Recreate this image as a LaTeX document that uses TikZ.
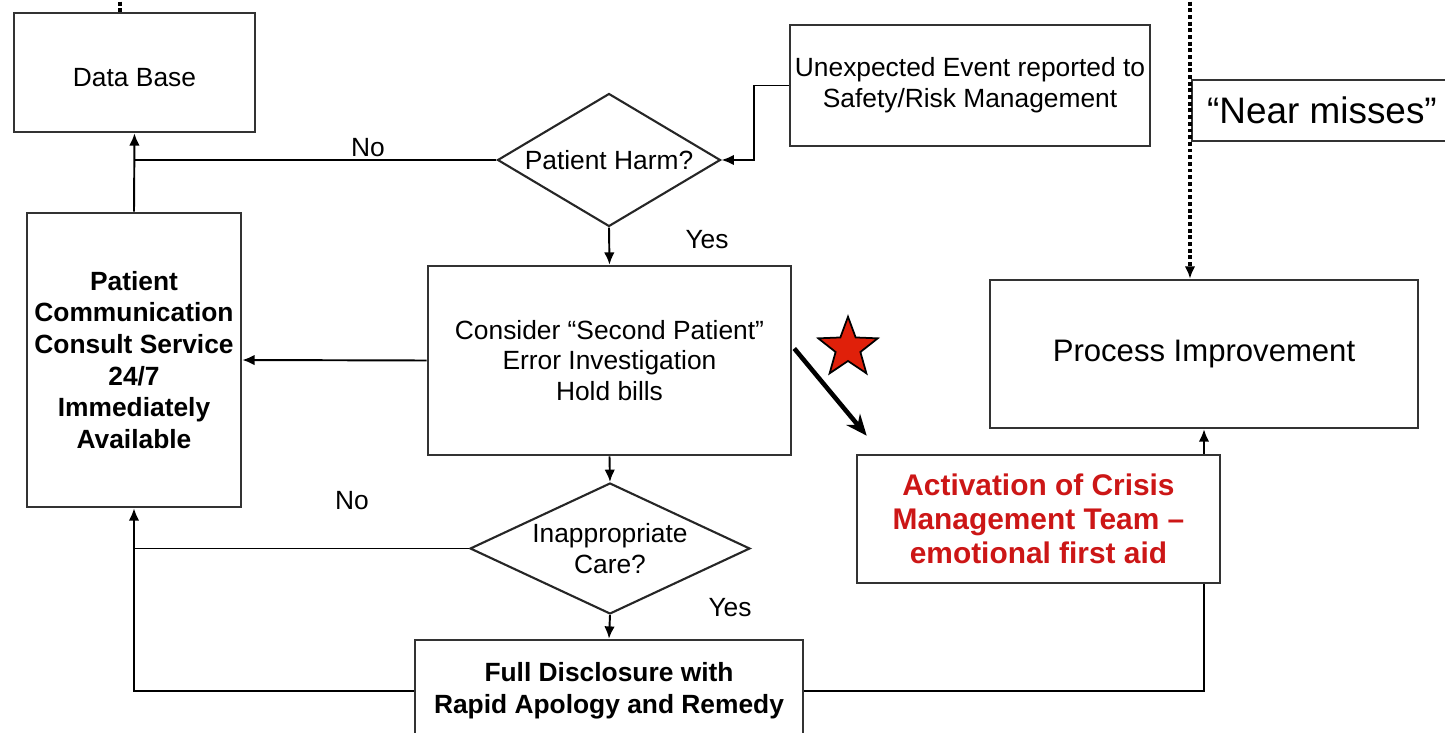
\documentclass[tikz,border=0pt]{standalone}
\usepackage{fontspec}
\setmainfont{Liberation Sans}
\usetikzlibrary{shapes.geometric, arrows.meta}

\definecolor{crisisred}{RGB}{204,22,22}
\definecolor{starred}{RGB}{224,32,10}

\begin{document}
\begin{tikzpicture}[x=0.02cm, y=-0.02cm,
  box/.style={draw=black!80, line width=1.5pt, align=center, inner sep=2pt},
  decision/.style={diamond, draw=black!85, line width=1.2pt, align=center, inner sep=0pt},
  txt/.style={font=\fontsize{15}{17.5}\selectfont},
  bold/.style={font=\fontsize{15}{18}\selectfont\bfseries},
  line/.style={line width=1.1pt},
  arr/.style={line width=1.1pt, -{Latex[length=7pt,width=6pt]}},
  dots/.style={line width=1.8pt, dash pattern=on 2.2pt off 1.6pt}]
  \useasboundingbox (0,0) rectangle (1445,733);
  \clip (0,0) rectangle (1445,733);

  \node[box, txt, text height=16.5pt, minimum width=4.82cm, minimum height=2.38cm] (db) at (134.5,72.5) {Data Base};
  \node[box, txt, minimum width=7.2cm, minimum height=2.42cm] (event) at (970,85.5) {Unexpected Event reported to\\Safety/Risk Management};
  \node[box, font=\fontsize{21}{24}\selectfont, minimum width=5.2cm, minimum height=1.22cm] (near) at (1322,110.5) {“Near misses”};
  \node[decision, txt, aspect=1.68, minimum width=4.46cm, minimum height=2.66cm] (harm) at (609,160) {Patient Harm?};
  \node[box, txt, minimum width=7.26cm, minimum height=3.78cm] (consider) at (609.5,360.5) {Consider “Second Patient”\\Error Investigation\\Hold bills};
  \node[box, bold, minimum width=4.28cm, minimum height=5.88cm] (pcs) at (134,360) {Patient\\Communication\\Consult Service\\24/7\\Immediately\\Available};
  \node[box, font=\fontsize{17.7}{20}\selectfont, minimum width=8.56cm, minimum height=2.96cm] (proc) at (1204,354) {Process Improvement};
  \node[box, font=\fontsize{17}{19.3}\selectfont\bfseries, text=crisisred, minimum width=7.26cm, minimum height=2.56cm] (crisis) at (1038.5,519) {Activation of Crisis\\Management Team –\\emotional first aid};
  \node[decision, txt, aspect=2.14, minimum width=5.6cm, minimum height=2.62cm] (care) at (610,548.5) {Inappropriate\\Care?};
  \node[box, bold, minimum width=7.76cm, minimum height=2.04cm] (full) at (609,691) {Full Disclosure with\\Rapid Apology and Remedy};
  \node[star, star points=5, star point ratio=2.4, draw=black, line width=1pt, fill=starred, minimum size=1.25cm, inner sep=0pt] (mark) at (848,348) {};

  \node[txt] (no1) at (368,148) {No};
  \node[txt] (yes1) at (707,240) {Yes};
  \node[txt] (no2) at (352,501) {No};
  \node[txt] (yes2) at (730,608) {Yes};

  \coordinate (dbtop) at (120,-5);
  \coordinate (neartop) at (1190,-5);

  \draw[dots] (dbtop) -- (dbtop |- db.north);
  \draw[dots, -{Latex[length=7pt,width=6pt]}] (neartop) -- (neartop |- proc.north);
  \draw[arr] (event.west) -- ++(-35,0) |- (harm.east);
  \draw[line] (harm.west) -- (harm.west -| db.south);
  \draw[arr] (pcs.north) -- (db.south);
  \draw[arr] (harm.south) -- (consider.north);
  \draw[arr] (consider.west) -- (pcs.east);
  \draw[arr] (consider.south) -- (care.north);
  \draw[line] (care.west) -- (care.west -| pcs.south);
  \draw[arr] (full.west) -| (pcs.south);
  \draw[arr] (care.south) -- (full.north);
  \draw[line] (full.east) -| (crisis.south -| proc.south);
  \draw[arr] (crisis.north -| proc.south) -- (proc.south);
  \draw[line width=2.6pt, -{Stealth[length=12pt,width=10pt]}] ([shift={(2,-12)}]consider.east) -- ([shift={(11,-18)}]crisis.north west);
\end{tikzpicture}
\end{document}
